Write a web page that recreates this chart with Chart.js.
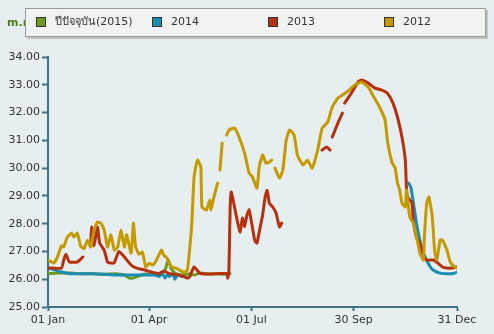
<!DOCTYPE html>
<html>
<head>
<meta charset="utf-8">
<script src="https://cdn.jsdelivr.net/npm/chart.js@4/dist/chart.umd.min.js"></script>
<style>
  html, body { margin: 0; padding: 0; background: #e7eef0; }
  #wrap { width: 494px; height: 334px; position: relative; }
</style>
</head>
<body>
<div id="wrap"><canvas id="tempChart" width="494" height="334"></canvas></div>
<script>
'use strict';

// series names shown in the legend
var seriesNames = ['ปีปัจจุบัน(2015)', '2014', '2013', '2012'];
var seriesColors = ['#6e9a1f', '#1a8db0', '#b5300c', '#c49a00'];

// x axis: day of year, with its tick positions and labels
var tickDays = [0, 90, 181, 272, 364];
var tickLabels = ['01 Jan', '01 Apr', '01 Jul', '30 Sep', '31 Dec'];

// y axis range
var yMin = 25, yMax = 34;

// 2015 (current year)
var days2015 = [0, 10, 20, 30, 40, 50, 60, 68, 72, 76, 80, 85, 90, 100, 104, 107, 110, 114, 120, 126, 130, 135, 140, 145, 150, 156, 162];
var temp2015 = [26.2, 26.22, 26.22, 26.2, 26.2, 26.18, 26.2, 26.15, 26.05, 26.04, 26.1, 26.18, 26.2, 26.2, 26.3, 26.7, 26.35, 26.2, 26.15, 26.2, 26.15, 26.22, 26.2, 26.18, 26.2, 26.18, 26.2];

// 2014
var days2014 = [0, 5, 10, 20, 30, 40, 50, 60, 70, 80, 90, 95, 99, 102, 104, 106, 108, 111, 113, 115, 119, 120,
                321, 323, 325, 328, 331, 334, 338, 341, 344, 349, 355, 360, 364];
var temp2014 = [26.4, 26.35, 26.28, 26.2, 26.2, 26.2, 26.18, 26.15, 26.15, 26.15, 26.15, 26.15, 26.1, 26.2, 26.04, 26.15, 26.1, 26.2, 26.0, 26.15, 26.1, null,
                29.46, 29.3, 28.8, 28.0, 27.4, 26.95, 26.6, 26.4, 26.3, 26.22, 26.2, 26.2, 26.25];

// 2013
var days2013 = [0, 5, 12, 14, 16, 19, 26, 30, 31, 33,
                38, 39, 41, 44, 46, 50, 53, 56, 59, 63, 68, 74, 79, 86, 92, 99, 103, 108, 117, 124, 126, 130, 135, 141, 150, 159, 160, 161, 162, 163,
                166, 169, 171, 173, 175, 177, 179, 182, 184, 186, 188, 191, 193, 195, 197, 200, 203, 206, 208, 210,
                244, 248, 251, 252, 253, 258, 262, 263,
                264, 270, 276, 279, 285, 291, 297, 302, 307, 311, 315, 318, 319, 320, 324, 325, 328, 331, 334, 337, 343, 347, 351, 355, 359, 364];
var temp2013 = [26.4, 26.4, 26.4, 26.69, 26.9, 26.62, 26.62, 26.76, 26.8, null,
                27.3, 27.88, 27.2, 27.88, 27.3, 27.05, 26.62, 26.58, 26.6, 27.0, 26.8, 26.51, 26.4, 26.33, 26.26, 26.2, 26.3, 26.2, 26.15, 26.04, 26.08, 26.44, 26.22, 26.19, 26.2, 26.2, 26.04, 26.3, 28.4, 29.14,
                28.6, 28.0, 27.7, 28.2, 27.9, 28.3, 28.5, 27.85, 27.4, 27.3, 27.7, 28.3, 28.9, 29.2, 28.74, 28.6, 28.38, 27.88, 28.02, null,
                30.65, 30.76, 30.65, null, 31.12, 31.62, 31.98, null,
                32.34, 32.7, 33.1, 33.17, 33.06, 32.88, 32.81, 32.7, 32.34, 31.84, 31.12, 30.29, 29.3, 28.96, 28.74, 28.13, 27.5, 27.3, 26.8, 26.69, 26.69, 26.58, 26.44, 26.4, 26.4, 26.44];

// 2012
var days2012 = [0, 5, 8, 12, 14, 17, 21, 23, 26, 29, 32, 35, 38, 41, 44, 47, 50, 53, 56, 59, 62, 65, 68, 70, 74, 76, 78, 81, 84, 87, 90, 93, 96, 101, 103, 106, 108, 110, 114, 117, 121, 124, 126, 128, 130, 133, 136, 137, 141, 144, 145, 147, 150, 151, 152,
                153, 155, 157,
                159, 161, 166, 170, 175, 179, 182, 186, 188, 191, 194, 197, 199, 200,
                202, 206, 209, 212, 215, 219, 222, 227, 231, 235, 240, 244, 249, 253, 258, 266, 273, 279, 285, 289, 295, 300, 302, 306, 309, 311, 313, 315, 318, 319, 322, 325, 328, 331, 334, 335, 337, 339, 342, 344, 346, 349, 351, 355, 358, 362, 364];
var temp2012 = [26.7, 26.58, 26.76, 27.2, 27.16, 27.5, 27.66, 27.52, 27.66, 27.2, 27.1, 27.4, 27.16, 27.77, 28.06, 28.02, 27.77, 27.16, 27.6, 27.05, 27.16, 27.77, 27.16, 27.6, 26.94, 28.02, 27.16, 26.9, 26.98, 26.44, 26.58, 26.51, 26.65, 27.05, 26.87, 26.76, 26.58, 26.44, 26.4, 26.33, 26.25, 26.33, 27.05, 28.02, 29.68, 30.29, 30.04, 28.6, 28.49, 28.85, 28.49, 28.85, 29.32, 29.46, null,
                29.93, 30.9, null,
                31.19, 31.37, 31.44, 31.12, 30.54, 29.82, 29.68, 29.28, 30.04, 30.47, 30.18, 30.22, 30.29, null,
                30.0, 29.64, 29.93, 31.01, 31.37, 31.19, 30.47, 30.11, 30.29, 30.0, 30.65, 31.44, 31.66, 32.2, 32.52, 32.74, 32.99, 33.1, 32.92, 32.63, 32.2, 31.73, 31.01, 30.22, 30.0, 29.46, 29.21, 28.74, 28.6, 29.21, 28.24, 28.02, 27.52, 26.94, 26.69, 27.52, 28.74, 28.96, 28.24, 27.05, 26.69, 27.41, 27.41, 27.05, 26.62, 26.44, 26.4];

function toPoints(days, temps) {
    return days.map(function (d, i) { return { x: d, y: temps[i] }; });
}

var seriesData = [
    toPoints(days2015, temp2015),
    toPoints(days2014, temp2014),
    toPoints(days2013, temp2013),
    toPoints(days2012, temp2012)
];

// 2012 on top, 2015 at the bottom
var drawOrder = [3, 2, 1, 0];

var FONT = '"DejaVu Sans", "Noto Sans", sans-serif';
var AXIS_COLOR = '#3f7282';

// page background and the unit text behind the legend
var backdrop = {
    id: 'backdrop',
    beforeDraw: function (chart) {
        var ctx = chart.ctx;
        ctx.save();
        ctx.fillStyle = '#e7eef0';
        ctx.fillRect(0, 0, chart.width, chart.height);
        ctx.font = 'bold 11px ' + FONT;
        ctx.fillStyle = '#4d7a1c';
        ctx.textBaseline = 'middle';
        ctx.fillText('m.msl', 7, 23);
        ctx.restore();
    }
};

// boxed legend with fixed column spacing
var boxLegend = {
    id: 'boxLegend',
    afterDraw: function (chart) {
        var ctx = chart.ctx;
        ctx.save();
        ctx.fillStyle = 'rgba(0,0,0,0.18)';
        ctx.fillRect(27, 10, 461, 29);
        ctx.fillStyle = '#f1f3f3';
        ctx.fillRect(25, 8, 461, 29);
        ctx.strokeStyle = '#9a9a9a';
        ctx.lineWidth = 1;
        ctx.strokeRect(25.5, 8.5, 460, 28);
        ctx.font = '11px ' + FONT;
        ctx.textBaseline = 'middle';
        for (var i = 0; i < seriesNames.length; i++) {
            var x = 36 + i * 116;
            ctx.fillStyle = seriesColors[i];
            ctx.fillRect(x, 17, 10, 10);
            ctx.strokeStyle = '#333';
            ctx.strokeRect(x + 0.5, 17.5, 9, 9);
            ctx.fillStyle = '#333';
            ctx.fillText(seriesNames[i], x + 19, 22.5);
        }
        ctx.restore();
    }
};

var datasets = seriesNames.map(function (name, i) {
    return {
        label: name,
        data: seriesData[i],
        borderColor: seriesColors[i],
        backgroundColor: seriesColors[i],
        borderWidth: 3,
        borderJoinStyle: 'round',
        borderCapStyle: 'round',
        pointRadius: 0,
        tension: 0.15,
        spanGaps: false,
        order: drawOrder[i]
    };
});

var ctx = document.getElementById('tempChart').getContext('2d');
var myChart = new Chart(ctx, {
    type: 'line',
    data: { datasets: datasets },
    plugins: [backdrop, boxLegend],
    options: {
        responsive: false,
        animation: false,
        parsing: false,
        layout: { padding: { top: 57, right: 37, left: 0, bottom: 0 } },
        plugins: {
            legend: { display: false },
            tooltip: { enabled: false }
        },
        scales: {
            x: {
                type: 'linear',
                min: 0,
                max: 364,
                afterBuildTicks: function (scale) {
                    scale.ticks = tickDays.map(function (d) { return { value: d }; });
                },
                afterFit: function (scale) { scale.height = 27; },
                border: { color: AXIS_COLOR, width: 2 },
                grid: { drawOnChartArea: false, color: AXIS_COLOR, tickLength: 4, tickWidth: 2 },
                ticks: {
                    autoSkip: false,
                    maxRotation: 0,
                    padding: 3,
                    color: '#333',
                    font: { family: FONT, size: 11 },
                    callback: function (value) {
                        var k = tickDays.indexOf(value);
                        return k >= 0 ? tickLabels[k] : '';
                    }
                }
            },
            y: {
                min: yMin,
                max: yMax,
                afterFit: function (scale) { scale.width = 48; },
                border: { color: AXIS_COLOR, width: 2 },
                grid: { drawOnChartArea: false, color: AXIS_COLOR, tickLength: 6, tickWidth: 2 },
                ticks: {
                    stepSize: 1,
                    padding: 2,
                    color: '#333',
                    font: { family: FONT, size: 11 },
                    callback: function (value) { return value.toFixed(2); }
                }
            }
        }
    }
});
</script>
</body>
</html>
